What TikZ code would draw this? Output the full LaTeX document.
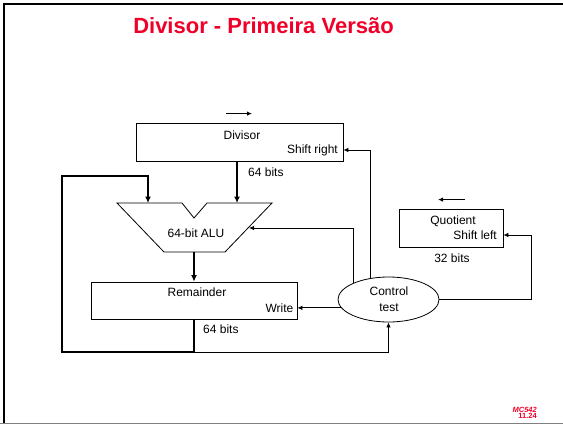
\documentclass[tikz,border=0pt]{standalone}
\usepackage{fontspec}
\setmainfont{Liberation Sans}
\usetikzlibrary{arrows.meta,shapes.geometric,calc}
\definecolor{slidered}{RGB}{240,0,40}
\begin{document}
\begin{tikzpicture}[x=1pt,y=-1pt,
  regbox/.style={draw,line width=0.8pt,inner sep=0pt},
  lbl/.style={font=\fontsize{12}{14}\selectfont,inner sep=0pt},
  wire/.style={line width=0.8pt,-{Latex[length=5pt,width=4.5pt]}},
  bus/.style={line width=2.4pt,-{Latex[length=6.5pt,width=6pt]}},
  plainbus/.style={line width=2.4pt},
  dirarrow/.style={line width=1pt,-{Latex[length=5pt,width=4.5pt]}}]
\useasboundingbox (0,0) rectangle (563,424);
% slide frame
\draw[line width=2.6pt] (4,424) -- (4,4) -- (563,4);
\draw[gray,line width=1.2pt] (0,423.4) -- (563,423.4);
% title
\node[font=\bfseries\fontsize{22}{26}\selectfont,text=slidered,anchor=base,inner sep=0pt] (title) at (263.5,33) {Divisor - Primeira Versão};

% registers
\node[regbox,minimum width=207pt,minimum height=38pt] (div) at (239.5,142) {};
\node[lbl] (divname) at (242,135) {Divisor};
\node[lbl,anchor=east] (divop) at (338,150) {Shift right};

\node[regbox,minimum width=206pt,minimum height=37pt] (rem) at (194,300.5) {};
\node[lbl] (remname) at (197,292) {Remainder};
\node[lbl,anchor=east] (remop) at (293.5,308) {Write};

\node[regbox,minimum width=104pt,minimum height=38pt] (quot) at (451,228) {};
\node[lbl] (quotname) at (453,221) {Quotient};
\node[lbl,anchor=east] (quotop) at (497,235) {Shift left};

% control unit
\node[draw,ellipse,line width=0.8pt,minimum width=101pt,minimum height=45pt,inner sep=0pt] (ctl) at (388.5,299.5) {};
\node[lbl] (ctl1) at (389,291) {Control};
\node[lbl] (ctl2) at (389,308) {test};

% ALU outline with notch
\draw[line width=0.8pt] (117,203) -- (182,203) -- (194,218) -- (207,203) -- (272,203)
  -- (225,252) -- (164,252) -- cycle;
\node[lbl] (alu) at (196,233) {64-bit ALU};
\coordinate (aluA) at (148,203);
\coordinate (aluB) at (237,203);
\coordinate (aluR) at (249,228);
\coordinate (aluOut) at (194,252);

% data paths
\draw[bus] (div.south -| aluB) -- (aluB);
\node[lbl,anchor=west] (w1) at (248,172) {64 bits};
\draw[bus] (aluOut) -- (rem.north -| aluOut);
\coordinate (lbot) at (194,352);
\coordinate (lcorner) at (62,352);
\coordinate (ltop) at (62,176);
\draw[bus] (rem.south -| lbot) -- (lbot) -- (lcorner) -- (ltop) -| (aluA);
\draw[wire] (lbot) -| (ctl.south);
\node[lbl,anchor=west] (w2) at (203,329) {64 bits};
\node[lbl] (w3) at (452,258) {32 bits};

% control signals
\draw[wire] (ctl.190) -- (rem.east |- ctl.190);
\draw[wire] (ctl.130) |- ([yshift=-8pt]div.east);
\draw[wire] (ctl.155) |- (aluR);
\draw[wire] (ctl.east) -| ([xshift=28pt,yshift=-7pt]quot.east) -- ([yshift=-7pt]quot.east);

% shift direction marks
\draw[dirarrow] ([xshift=-13.5pt,yshift=9pt]div.north) -- ([xshift=12.5pt,yshift=9pt]div.north);
\draw[dirarrow] ([xshift=14pt,yshift=9pt]quot.north) -- ([xshift=-13pt,yshift=9pt]quot.north);

% slide number
\node[font=\bfseries\itshape\fontsize{7.5}{8}\selectfont,text=slidered,anchor=base east,inner sep=0pt] (sl1) at (537,412) {MC542};
\node[font=\bfseries\fontsize{7.5}{8}\selectfont,text=slidered,anchor=base east,inner sep=0pt] (sl2) at (537,418) {11.24};
\end{tikzpicture}
\end{document}
